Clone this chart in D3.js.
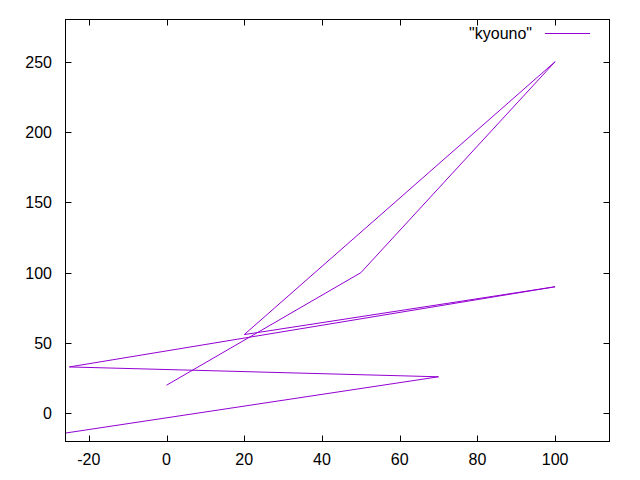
<!DOCTYPE html>
<html>
<head>
<meta charset="utf-8">
<script src="https://cdn.jsdelivr.net/npm/d3@7"></script>
<style>
  body { margin: 0; background: #fff; }
  text { font-family: "Liberation Sans", Arial, sans-serif; font-size: 16px; fill: #000; }
</style>
</head>
<body>
<script>
// data
const xValues = [0, 50, 100, 20, 100, -25, 70, -26];
const yValues = [20, 100, 250, 56, 90, 33, 26, -14];
const xTicks = [-20, 0, 20, 40, 60, 80, 100];
const yTicks = [0, 50, 100, 150, 200, 250];
const seriesName = '"kyouno"';

const width = 640, height = 480;
const plotLeft = 65.5, plotRight = 609.5, plotTop = 19.5, plotBottom = 441.5;
const tickLen = 6;

const svg = d3.select("body").append("svg")
  .attr("width", width)
  .attr("height", height);

const x = d3.scaleLinear().domain([-26, 114]).range([plotLeft, plotRight]);
const y = d3.scaleLinear().domain([-20, 280]).range([plotBottom, plotTop]);

const points = xValues.map((v, i) => [v, yValues[i]]);

// axes with inward ticks, mirrored on top/right
const g = svg.append("g").attr("stroke", "#000").attr("stroke-width", 1);

xTicks.forEach(t => {
  const px = Math.round(x(t)) + 0.5;
  g.append("line").attr("x1", px).attr("x2", px).attr("y1", plotBottom).attr("y2", plotBottom - tickLen);
  g.append("line").attr("x1", px).attr("x2", px).attr("y1", plotTop).attr("y2", plotTop + tickLen);
});
yTicks.forEach(t => {
  const py = Math.round(y(t)) + 0.5;
  g.append("line").attr("x1", plotLeft).attr("x2", plotLeft + tickLen).attr("y1", py).attr("y2", py);
  g.append("line").attr("x1", plotRight).attr("x2", plotRight - tickLen).attr("y1", py).attr("y2", py);
});

svg.append("g").selectAll("text")
  .data(xTicks)
  .join("text")
  .attr("x", d => x(d))
  .attr("y", 465)
  .attr("text-anchor", "middle")
  .text(d => d);

svg.append("g").selectAll("text")
  .data(yTicks)
  .join("text")
  .attr("x", 52)
  .attr("y", d => y(d) + 6)
  .attr("text-anchor", "end")
  .text(d => d);

// the series
svg.append("path")
  .datum(points)
  .attr("fill", "none")
  .attr("stroke", "#9400d3")
  .attr("stroke-width", 1)
  .attr("d", d3.line().x(d => x(d[0])).y(d => y(d[1])));

// border
svg.append("rect")
  .attr("x", plotLeft).attr("y", plotTop)
  .attr("width", plotRight - plotLeft).attr("height", plotBottom - plotTop)
  .attr("fill", "none")
  .attr("stroke", "#000");

// key
svg.append("text")
  .attr("x", 532)
  .attr("y", 39)
  .attr("text-anchor", "end")
  .text(seriesName);
svg.append("line")
  .attr("x1", 545).attr("x2", 590)
  .attr("y1", 33.5).attr("y2", 33.5)
  .attr("stroke", "#9400d3");
</script>
</body>
</html>
